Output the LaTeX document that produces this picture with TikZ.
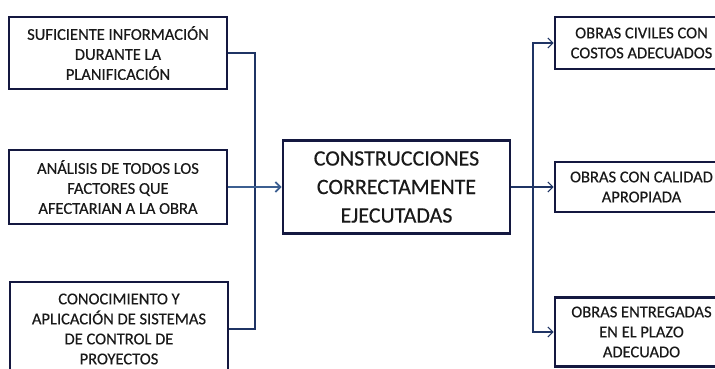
\documentclass[tikz,border=0pt]{standalone}
\usepackage{fontspec}
\setmainfont{Carlito}
\newfontfamily\boxfont{Carlito}[FakeBold=0.35]
\usetikzlibrary{arrows.meta}
\definecolor{boxline}{RGB}{20,24,64}
\definecolor{connline}{RGB}{31,52,100}
\definecolor{mainarrow}{RGB}{60,95,145}
\tikzset{
  box/.style={draw=boxline, line width=2.8pt, fill=white, rectangle, align=center,
    inner sep=2pt, text=black!90, font=\boxfont\fontsize{16.5}{20}\selectfont},
  bigbox/.style={box, font=\boxfont\fontsize{22}{28.5}\selectfont},
  conn/.style={draw=connline, line width=1.1pt},
  tip/.style={-{Straight Barb[length=5pt,width=10pt,line width=1.1pt]}},
}
\begin{document}
\begin{tikzpicture}[x=1pt,y=-1pt]
\path[clip] (0,0) rectangle (715,369);
\fill[white] (0,0) rectangle (715,369);
% left boxes
\node[box, minimum width=218pt, minimum height=72pt] (l1) at (118,53)
  {SUFICIENTE INFORMACIÓN\\DURANTE LA\\PLANIFICACIÓN};
\node[box, minimum width=218pt, minimum height=74pt] (l2) at (118,187)
  {ANÁLISIS DE TODOS LOS\\FACTORES QUE\\AFECTARIAN A LA OBRA};
\node[box, minimum width=218pt, minimum height=94pt] (l3) at (119,329)
  {CONOCIMIENTO Y\\APLICACIÓN DE SISTEMAS\\DE CONTROL DE\\PROYECTOS};
% centre box
\node[bigbox, minimum width=227pt, minimum height=93pt] (c) at (396.5,187)
  {CONSTRUCCIONES\\CORRECTAMENTE\\EJECUTADAS};
% right boxes
\node[box, minimum width=173pt, minimum height=52pt] (r1) at (641.5,43)
  {OBRAS CIVILES CON\\COSTOS ADECUADOS};
\node[box, minimum width=173pt, minimum height=50pt] (r2) at (641.5,187)
  {OBRAS CON CALIDAD\\APROPIADA};
\node[box, minimum width=173pt, minimum height=69pt] (r3) at (641.5,332)
  {OBRAS ENTREGADAS\\EN EL PLAZO\\ADECUADO};
% left connectors
\coordinate (jl) at (255,187);
\draw[conn] (l1.east) -| (jl);
\draw[conn] (l3.east) -| (jl);
\draw[draw=mainarrow, line width=1.8pt, -{Straight Barb[length=5pt,width=10pt,line width=1.8pt]}] (l2.east) -- (c.west);
% right connectors
\coordinate (jr) at (533,187);
\draw[conn] (c.east) -- (jr);
\draw[conn, tip] (jr) |- (r1.west);
\draw[conn, tip] (jr) -- (r2.west);
\draw[conn, tip] (jr) |- (r3.west);
\end{tikzpicture}
\end{document}
